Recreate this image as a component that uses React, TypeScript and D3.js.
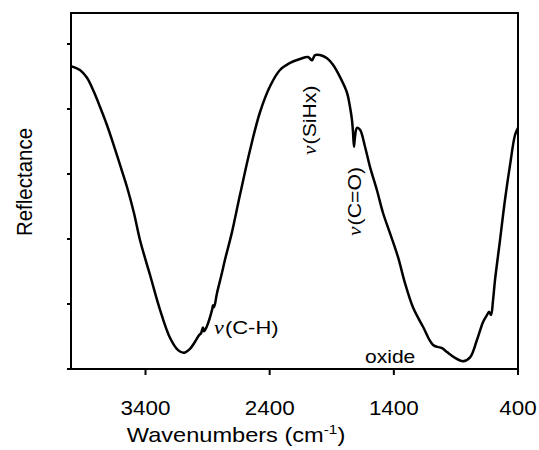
import React from "react";
import * as d3 from "d3";

const wavenumbers = [4000, 3928, 3871, 3815, 3766, 3710, 3662, 3605, 3549, 3493, 3444, 3364, 3283, 3203, 3138, 3090, 3042, 3001, 2969, 2953, 2937, 2929, 2905, 2864, 2856, 2848, 2824, 2784, 2760, 2703, 2639, 2558, 2478, 2397, 2317, 2236, 2156, 2091, 2059, 2035, 1995, 1938, 1890, 1833, 1777, 1753, 1737, 1729, 1721, 1713, 1697, 1672, 1632, 1592, 1536, 1487, 1431, 1366, 1310, 1246, 1165, 1084, 1012, 972, 907, 843, 786, 730, 682, 650, 633, 617, 601, 585, 545, 505, 464, 424, 400];
const reflectance = [4.66, 4.60, 4.48, 4.26, 4.03, 3.75, 3.48, 3.14, 2.80, 2.40, 1.98, 1.45, 0.91, 0.48, 0.29, 0.25, 0.31, 0.42, 0.52, 0.55, 0.64, 0.58, 0.66, 0.91, 0.98, 0.95, 1.17, 1.48, 1.68, 2.11, 2.68, 3.37, 3.95, 4.35, 4.60, 4.71, 4.77, 4.80, 4.75, 4.83, 4.83, 4.78, 4.68, 4.49, 4.25, 4.03, 3.83, 3.65, 3.42, 3.57, 3.71, 3.68, 3.42, 3.11, 2.75, 2.40, 2.09, 1.72, 1.32, 0.95, 0.65, 0.37, 0.32, 0.26, 0.17, 0.12, 0.18, 0.45, 0.72, 0.83, 0.88, 0.83, 1.06, 1.37, 1.98, 2.60, 3.14, 3.60, 3.71];
const xTicks = [3400, 2400, 1400, 400];
const yTicks = [0, 1, 2, 3, 4, 5];

const left = 71, right = 518, top = 13, bottom = 369;

export default function App() {
  const x = d3.scaleLinear().domain([4000, 400]).range([left, right]);
  const y = d3.scaleLinear().domain([0, 5.477]).range([bottom, top]);
  const data = wavenumbers.map((w, i) => [w, reflectance[i]] as [number, number]);
  const line = d3.line<[number, number]>().x(d => x(d[0])).y(d => y(d[1])).curve(d3.curveCatmullRom.alpha(0.5));
  const sans = "'Liberation Sans', Arial, sans-serif";
  const serif = "'Liberation Serif', 'DejaVu Serif', serif";
  return (
    <svg width={539} height={450} style={{ display: "block", margin: 0, position: "absolute", left: 0, top: 0 }}>
      <rect x={0} y={0} width={539} height={450} fill="white" />
      <line x1={left} x2={right} y1={top} y2={top} stroke="black" strokeWidth={2} />
      <line x1={right} x2={right} y1={top - 1} y2={bottom + 6} stroke="black" strokeWidth={2} />
      <line x1={left} x2={left} y1={top - 1} y2={bottom + 1} stroke="black" strokeWidth={2} />
      <line x1={left} x2={right + 1} y1={bottom} y2={bottom} stroke="black" strokeWidth={2} />
      {yTicks.map(t => (
        <line key={"y" + t} x1={left - 4} x2={left} y1={y(t)} y2={y(t)} stroke="black" strokeWidth={2} />
      ))}
      {xTicks.map(t => (
        <g key={"x" + t}>
          <line x1={x(t)} x2={x(t)} y1={bottom} y2={bottom + 6} stroke="black" strokeWidth={2} />
          <text transform={`translate(${x(t)},415) scale(1.15,1)`} textAnchor="middle" fontFamily={sans} fontSize={19.5}>{t}</text>
        </g>
      ))}
      <path d={line(data) || ""} fill="none" stroke="black" strokeWidth={2.5} strokeLinejoin="round" />
      <text transform={`translate(32,182) rotate(-90) scale(1.05,1.15)`} textAnchor="middle" fontFamily={sans} fontSize={19.5}>Reflectance</text>
      <text transform={`translate(236,442) scale(1.18,1)`} textAnchor="middle" fontFamily={sans} fontSize={20}>
        Wavenumbers (cm<tspan dy={-8} fontSize={13}>-1</tspan><tspan dy={8}>)</tspan>
      </text>
      <text transform="translate(214,334) scale(1.22,1)" fontSize={18}>
        <tspan fontFamily={serif} fontStyle="italic">ν</tspan>
        <tspan fontFamily={sans} dx={1}>(C-H)</tspan>
      </text>
      <text transform="translate(316,155) rotate(-90) scale(1.18,1)" fontSize={18}>
        <tspan fontFamily={serif} fontStyle="italic">ν</tspan>
        <tspan fontFamily={sans} dx={1}>(SiHx)</tspan>
      </text>
      <text transform="translate(361,236) rotate(-90) scale(1.18,1)" fontSize={18}>
        <tspan fontFamily={serif} fontStyle="italic">ν</tspan>
        <tspan fontFamily={sans} dx={1}>(C=O)</tspan>
      </text>
      <text transform="translate(365,363) scale(1.17,1)" fontFamily={sans} fontSize={18}>oxide</text>
    </svg>
  );
}
